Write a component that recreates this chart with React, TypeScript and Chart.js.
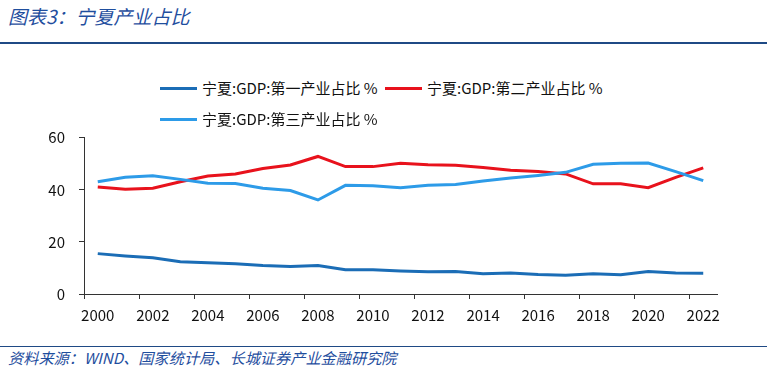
import React, { useEffect, useRef } from "react";
import { Chart, registerables } from "chart.js";

Chart.register(...registerables);

const years = [
  "2000", "2001", "2002", "2003", "2004", "2005", "2006", "2007", "2008", "2009", "2010", "2011",
  "2012", "2013", "2014", "2015", "2016", "2017", "2018", "2019", "2020", "2021", "2022",
];
const primaryShare = [15.5, 14.6, 13.9, 12.4, 12.0, 11.6, 10.9, 10.6, 10.9, 9.3, 9.3, 8.8, 8.5, 8.6, 7.8, 8.1, 7.5, 7.2, 7.8, 7.4, 8.6, 8.1, 8.0];
const secondaryShare = [41.1, 40.2, 40.6, 43.1, 45.3, 46.1, 48.2, 49.5, 52.8, 48.9, 48.9, 50.2, 49.6, 49.4, 48.6, 47.5, 47.0, 46.1, 42.3, 42.3, 40.8, 44.8, 48.4];
const tertiaryShare = [43.1, 44.8, 45.4, 44.0, 42.5, 42.4, 40.6, 39.7, 36.1, 41.7, 41.6, 40.8, 41.7, 42.0, 43.4, 44.5, 45.5, 46.7, 49.8, 50.2, 50.3, 47.0, 43.5];
const seriesNames = ["宁夏:GDP:第一产业占比 %", "宁夏:GDP:第二产业占比 %", "宁夏:GDP:第三产业占比 %"];
const seriesColors = ["#1B6DB6", "#E8121C", "#2D9BE8"];
const yTickValues = [0, 20, 40, 60];

const titleText = "图表3：宁夏产业占比";
const sourceText = "资料来源：WIND、国家统计局、长城证券产业金融研究院";

const FONT = '"Microsoft YaHei", "Noto Sans CJK SC", sans-serif';
const BRAND = "#1F4E9E";

const legendPos = [
  { left: 160, top: 88 },
  { left: 385, top: 88 },
  { left: 160, top: 119 },
];

export default function App() {
  const canvasRef = useRef<HTMLCanvasElement | null>(null);

  useEffect(() => {
    const canvas = canvasRef.current;
    if (!canvas) return;
    const chart = new Chart(canvas, {
      type: "line",
      data: {
        labels: years,
        datasets: [primaryShare, secondaryShare, tertiaryShare].map((d, i) => ({
          label: seriesNames[i],
          data: d,
          borderColor: seriesColors[i],
          backgroundColor: seriesColors[i],
          borderWidth: 3,
          pointRadius: 0,
          tension: 0,
          order: 3 - i,
        })),
      },
      options: {
        responsive: false,
        animation: false,
        layout: { padding: { left: 0, right: 50, top: 37.7, bottom: 0 } },
        plugins: {
          legend: { display: false },
          tooltip: { enabled: false },
          title: { display: false },
        },
        scales: {
          x: {
            type: "category",
            offset: true,
            grid: {
              offset: true,
              drawOnChartArea: false,
              tickLength: 5,
              tickColor: (ctx: any) => (ctx.index % 2 === 0 ? "#333333" : "rgba(0,0,0,0)"),
            },
            border: { color: "#333333", width: 1 },
            ticks: {
              autoSkip: false,
              maxRotation: 0,
              padding: 7,
              color: "#111111",
              font: { family: FONT, size: 15 },
              callback: (_v: any, i: number) => (i % 2 === 0 ? years[i] : ""),
            },
            afterFit: (s: any) => {
              s.height = 36;
            },
          },
          y: {
            min: 0,
            max: 60,
            afterBuildTicks: (s: any) => {
              s.ticks = yTickValues.map((v) => ({ value: v }));
            },
            grid: {
              drawOnChartArea: false,
              tickLength: 5,
              tickColor: "#333333",
            },
            border: { color: "#333333", width: 1 },
            ticks: {
              padding: 14,
              color: "#111111",
              font: { family: FONT, size: 15 },
            },
            afterFit: (s: any) => {
              s.width = 84;
            },
          },
        },
      },
    });
    return () => chart.destroy();
  }, []);

  return (
    <div
      style={{
        position: "absolute",
        left: 0,
        top: 0,
        width: 767,
        height: 366,
        background: "#ffffff",
        overflow: "hidden",
        fontFamily: FONT,
      }}
    >
      <canvas
        ref={canvasRef}
        width={767}
        height={230}
        style={{ position: "absolute", left: 0, top: 100, width: 767, height: 230 }}
      />
      <div
        style={{
          position: "absolute",
          left: 8,
          top: 3,
          fontSize: 19,
          lineHeight: "26px",
          fontStyle: "italic",
          color: BRAND,
          whiteSpace: "nowrap",
        }}
      >
        {titleText}
      </div>
      <div style={{ position: "absolute", left: 0, top: 42, width: 767, height: 2, background: "#1F4A85" }} />
      {seriesNames.map((name, i) => (
        <div
          key={name}
          style={{
            position: "absolute",
            left: legendPos[i].left,
            top: legendPos[i].top - 10,
            height: 20,
            display: "flex",
            alignItems: "center",
            whiteSpace: "nowrap",
          }}
        >
          <div style={{ width: 37, height: 3, background: seriesColors[i], marginRight: 5 }} />
          <span style={{ fontSize: 15, lineHeight: "20px", color: "#111111" }}>{name}</span>
        </div>
      ))}
      <div style={{ position: "absolute", left: 0, top: 346, width: 767, height: 1, background: "#1F4A85" }} />
      <div
        style={{
          position: "absolute",
          left: 8,
          top: 347,
          fontSize: 15.2,
          lineHeight: "20px",
          fontStyle: "italic",
          color: BRAND,
          whiteSpace: "nowrap",
        }}
      >
        {sourceText}
      </div>
    </div>
  );
}
